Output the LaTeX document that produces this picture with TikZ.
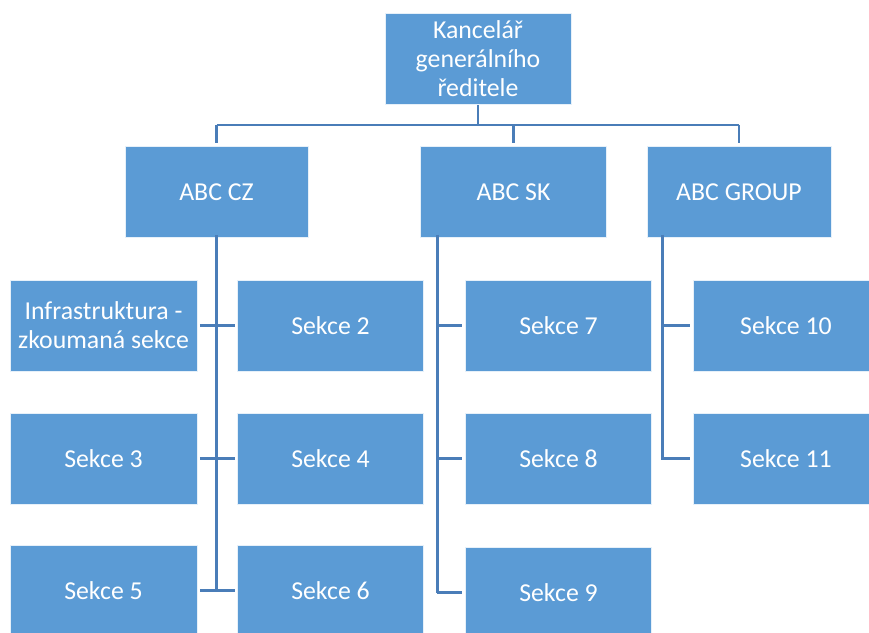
\documentclass[tikz,border=0pt]{standalone}
\usepackage{fontspec}
\setmainfont{Carlito}
\definecolor{boxfill}{HTML}{5B9BD5}
\definecolor{linkcol}{HTML}{4A7DB8}
\begin{document}
\begin{tikzpicture}[x=1pt,y=-1pt,
  unit/.style={draw=white!85!boxfill, line width=0.8pt, fill=boxfill, text=white,
    minimum width=186pt, minimum height=91pt, inner sep=2pt, align=center,
    font=\fontsize{25.8}{29}\selectfont},
  conn/.style={draw=linkcol, line width=2.8pt},
  gap/.style={shorten >=2.5pt, shorten <=2.5pt}]
\useasboundingbox (0,0) rectangle (869,632);

% head office
\node[unit] (ceo) at (478,58.5) {Kancelář\\generálního\\ředitele};

% divisions
\node[unit, minimum width=183pt] (cz) at (216.5,192) {ABC CZ};
\node[unit] (sk) at (513.5,192) {ABC SK};
\node[unit, minimum width=184pt] (grp) at (739,192) {ABC GROUP};

% sections
\node[unit, minimum width=187pt] (infra) at (103.5,325.5) {Infrastruktura -\\zkoumaná sekce};
\node[unit, minimum width=187pt] (s3) at (103.5,458.5) {Sekce 3};
\node[unit, minimum width=187pt] (s5) at (103.5,590.5) {Sekce 5};
\node[unit] (s2) at (330.5,325.5) {Sekce 2};
\node[unit] (s4) at (330.5,458.5) {Sekce 4};
\node[unit] (s6) at (330.5,590.5) {Sekce 6};
\node[unit] (s7) at (558.5,325.5) {Sekce 7};
\node[unit] (s8) at (558.5,458.5) {Sekce 8};
\node[unit] (s9) at (558.5,592.5) {Sekce 9};
\node[unit] (s10) at (786,325.5) {Sekce 10};
\node[unit] (s11) at (786,458.5) {Sekce 11};

% head office to divisions
\coordinate (bus) at (478,125);
\draw[conn] ([yshift=-1pt]ceo.south) -- (bus);
\draw[conn] (cz.north |- bus) -- (grp.north |- bus);
\draw[conn, shorten >=3pt] (cz.north |- bus) -- (cz.north);
\draw[conn, shorten >=3pt] (sk.north |- bus) -- (sk.north);
\draw[conn, shorten >=3pt] (grp.north |- bus) -- (grp.north);

% ABC CZ spine
\coordinate (czs) at ([yshift=3pt]cz.south);
\draw[conn] (czs) -- (czs |- s6.west);
\draw[conn, gap] (infra.east) -- (s2.west);
\draw[conn, gap] (s3.east) -- (s4.west);
\draw[conn, gap] (s5.east) -- (s6.west);

% ABC SK spine
\coordinate (sks) at ([xshift=17pt, yshift=3pt]sk.south west);
\draw[conn] (sks) -- (sks |- s9.west);
\draw[conn, shorten >=3pt] (sks |- s7.west) -- (s7.west);
\draw[conn, shorten >=3pt] (sks |- s8.west) -- (s8.west);
\draw[conn, shorten >=3pt] (sks |- s9.west) -- (s9.west);

% ABC GROUP spine
\coordinate (grs) at ([xshift=16pt, yshift=3pt]grp.south west);
\draw[conn] (grs) -- (grs |- s11.west) -- ([xshift=-3pt]s11.west);
\draw[conn, shorten >=3pt] (grs |- s10.west) -- (s10.west);
\end{tikzpicture}
\end{document}
